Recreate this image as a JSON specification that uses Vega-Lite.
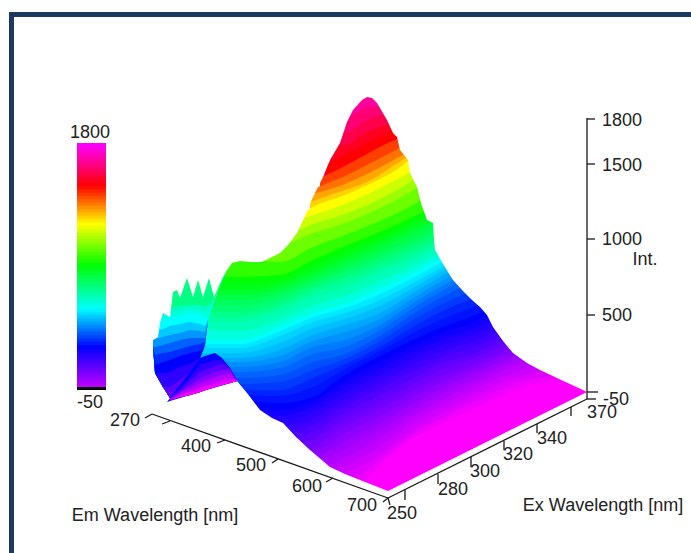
{"$schema":"https://vega.github.io/schema/vega-lite/v6.json","width":691,"height":553,"autosize":"none","padding":0,"background":"white","config":{"view":{"stroke":null}},
"datasets":{
"bands":[
{"v":1680,"x":320,"y":60},{"v":1680,"x":430,"y":60},
{"v":1630,"x":340,"y":125},{"v":1630,"x":367,"y":108},{"v":1630,"x":395,"y":105},
{"v":1580,"x":330,"y":130},{"v":1580,"x":345,"y":133},{"v":1580,"x":367,"y":120},{"v":1580,"x":395,"y":112},
{"v":1530,"x":330,"y":145},{"v":1530,"x":345,"y":145},{"v":1530,"x":367,"y":132},{"v":1530,"x":395,"y":122},{"v":1530,"x":410,"y":115},
{"v":1490,"x":325,"y":165},{"v":1490,"x":345,"y":155},{"v":1490,"x":367,"y":143},{"v":1490,"x":385,"y":134},{"v":1490,"x":410,"y":122},
{"v":1420,"x":320,"y":178},{"v":1420,"x":345,"y":166},{"v":1420,"x":367,"y":154},{"v":1420,"x":390,"y":142},{"v":1420,"x":410,"y":135},
{"v":1360,"x":315,"y":188},{"v":1360,"x":345,"y":176},{"v":1360,"x":367,"y":165},{"v":1360,"x":390,"y":153},{"v":1360,"x":415,"y":140},
{"v":1300,"x":310,"y":195},{"v":1300,"x":345,"y":184},{"v":1300,"x":367,"y":174},{"v":1300,"x":390,"y":162},{"v":1300,"x":415,"y":148},
{"v":1250,"x":310,"y":202},{"v":1250,"x":345,"y":190},{"v":1250,"x":367,"y":182},{"v":1250,"x":390,"y":168},{"v":1250,"x":415,"y":152},
{"v":1200,"x":300,"y":215},{"v":1200,"x":313,"y":207},{"v":1200,"x":345,"y":195},{"v":1200,"x":363,"y":187},{"v":1200,"x":403,"y":165},{"v":1200,"x":420,"y":150},
{"v":1140,"x":280,"y":225},{"v":1140,"x":313,"y":215},{"v":1140,"x":345,"y":204},{"v":1140,"x":380,"y":188},{"v":1140,"x":413,"y":170},{"v":1140,"x":440,"y":150},
{"v":1080,"x":165,"y":232},{"v":1080,"x":240,"y":232},{"v":1080,"x":280,"y":236},{"v":1080,"x":313,"y":224},{"v":1080,"x":345,"y":214},{"v":1080,"x":380,"y":199},{"v":1080,"x":413,"y":180},{"v":1080,"x":440,"y":160},
{"v":1020,"x":165,"y":240},{"v":1020,"x":240,"y":240},{"v":1020,"x":280,"y":244},{"v":1020,"x":313,"y":233},{"v":1020,"x":345,"y":223},{"v":1020,"x":380,"y":208},{"v":1020,"x":413,"y":190},{"v":1020,"x":440,"y":170},
{"v":950,"x":165,"y":258},{"v":950,"x":240,"y":258},{"v":950,"x":280,"y":262},{"v":950,"x":313,"y":247},{"v":950,"x":345,"y":235},{"v":950,"x":380,"y":221},{"v":950,"x":413,"y":205},{"v":950,"x":440,"y":188},
{"v":890,"x":165,"y":277},{"v":890,"x":240,"y":277},{"v":890,"x":280,"y":275},{"v":890,"x":313,"y":260},{"v":890,"x":345,"y":246},{"v":890,"x":380,"y":232},{"v":890,"x":413,"y":217},{"v":890,"x":440,"y":203},{"v":890,"x":470,"y":180},
{"v":860,"x":165,"y":283},{"v":860,"x":240,"y":283},{"v":860,"x":280,"y":280},{"v":860,"x":313,"y":266},{"v":860,"x":345,"y":252},{"v":860,"x":380,"y":238},{"v":860,"x":413,"y":222},{"v":860,"x":440,"y":209},{"v":860,"x":470,"y":185},
{"v":830,"x":165,"y":290},{"v":830,"x":240,"y":290},{"v":830,"x":280,"y":285},{"v":830,"x":313,"y":272},{"v":830,"x":345,"y":258},{"v":830,"x":380,"y":243},{"v":830,"x":413,"y":228},{"v":830,"x":440,"y":215},{"v":830,"x":480,"y":190},
{"v":800,"x":165,"y":295},{"v":800,"x":240,"y":295},{"v":800,"x":280,"y":289},{"v":800,"x":313,"y":276},{"v":800,"x":345,"y":263},{"v":800,"x":380,"y":248},{"v":800,"x":413,"y":233},{"v":800,"x":440,"y":220},{"v":800,"x":480,"y":195},
{"v":770,"x":165,"y":300},{"v":770,"x":240,"y":300},{"v":770,"x":280,"y":293},{"v":770,"x":313,"y":281},{"v":770,"x":345,"y":268},{"v":770,"x":380,"y":253},{"v":770,"x":413,"y":239},{"v":770,"x":440,"y":226},{"v":770,"x":480,"y":200},
{"v":740,"x":165,"y":306},{"v":740,"x":240,"y":306},{"v":740,"x":280,"y":298},{"v":740,"x":313,"y":284},{"v":740,"x":345,"y":272},{"v":740,"x":380,"y":258},{"v":740,"x":413,"y":244},{"v":740,"x":440,"y":231},{"v":740,"x":480,"y":206},
{"v":710,"x":165,"y":312},{"v":710,"x":240,"y":312},{"v":710,"x":280,"y":303},{"v":710,"x":313,"y":288},{"v":710,"x":345,"y":277},{"v":710,"x":380,"y":263},{"v":710,"x":413,"y":249},{"v":710,"x":440,"y":236},{"v":710,"x":480,"y":212},
{"v":680,"x":165,"y":317},{"v":680,"x":240,"y":317},{"v":680,"x":280,"y":307},{"v":680,"x":313,"y":293},{"v":680,"x":345,"y":282},{"v":680,"x":380,"y":268},{"v":680,"x":413,"y":254},{"v":680,"x":440,"y":241},{"v":680,"x":480,"y":217},
{"v":650,"x":165,"y":322},{"v":650,"x":240,"y":322},{"v":650,"x":280,"y":312},{"v":650,"x":313,"y":298},{"v":650,"x":345,"y":288},{"v":650,"x":380,"y":273},{"v":650,"x":413,"y":259},{"v":650,"x":440,"y":246},{"v":650,"x":480,"y":222},
{"v":605,"x":165,"y":331},{"v":605,"x":240,"y":331},{"v":605,"x":280,"y":320},{"v":605,"x":313,"y":306},{"v":605,"x":345,"y":296},{"v":605,"x":380,"y":281},{"v":605,"x":413,"y":266},{"v":605,"x":440,"y":252},{"v":605,"x":480,"y":230},
{"v":560,"x":165,"y":340},{"v":560,"x":240,"y":340},{"v":560,"x":280,"y":327},{"v":560,"x":313,"y":313},{"v":560,"x":345,"y":304},{"v":560,"x":380,"y":289},{"v":560,"x":413,"y":273},{"v":560,"x":440,"y":258},{"v":560,"x":480,"y":237},{"v":560,"x":520,"y":210},
{"v":535,"x":165,"y":344},{"v":535,"x":240,"y":344},{"v":535,"x":280,"y":331},{"v":535,"x":313,"y":317},{"v":535,"x":345,"y":308},{"v":535,"x":380,"y":294},{"v":535,"x":413,"y":278},{"v":535,"x":440,"y":263},{"v":535,"x":480,"y":242},{"v":535,"x":520,"y":216},
{"v":510,"x":165,"y":348},{"v":510,"x":240,"y":348},{"v":510,"x":280,"y":336},{"v":510,"x":313,"y":322},{"v":510,"x":345,"y":313},{"v":510,"x":380,"y":300},{"v":510,"x":413,"y":283},{"v":510,"x":440,"y":268},{"v":510,"x":480,"y":247},{"v":510,"x":520,"y":222},
{"v":485,"x":165,"y":353},{"v":485,"x":240,"y":353},{"v":485,"x":280,"y":343},{"v":485,"x":313,"y":328},{"v":485,"x":345,"y":319},{"v":485,"x":380,"y":306},{"v":485,"x":413,"y":288},{"v":485,"x":440,"y":272},{"v":485,"x":480,"y":251},{"v":485,"x":520,"y":227},
{"v":460,"x":165,"y":358},{"v":460,"x":240,"y":358},{"v":460,"x":280,"y":350},{"v":460,"x":313,"y":335},{"v":460,"x":345,"y":325},{"v":460,"x":380,"y":313},{"v":460,"x":413,"y":293},{"v":460,"x":440,"y":277},{"v":460,"x":480,"y":256},{"v":460,"x":520,"y":232},
{"v":435,"x":165,"y":362},{"v":435,"x":240,"y":362},{"v":435,"x":280,"y":356},{"v":435,"x":313,"y":341},{"v":435,"x":345,"y":332},{"v":435,"x":380,"y":319},{"v":435,"x":413,"y":298},{"v":435,"x":440,"y":282},{"v":435,"x":480,"y":261},{"v":435,"x":520,"y":238},
{"v":410,"x":165,"y":367},{"v":410,"x":240,"y":367},{"v":410,"x":280,"y":362},{"v":410,"x":313,"y":347},{"v":410,"x":345,"y":340},{"v":410,"x":380,"y":325},{"v":410,"x":413,"y":303},{"v":410,"x":440,"y":287},{"v":410,"x":480,"y":266},{"v":410,"x":520,"y":245},
{"v":385,"x":165,"y":372},{"v":385,"x":240,"y":372},{"v":385,"x":280,"y":368},{"v":385,"x":313,"y":354},{"v":385,"x":345,"y":347},{"v":385,"x":380,"y":330},{"v":385,"x":413,"y":308},{"v":385,"x":440,"y":292},{"v":385,"x":480,"y":272},{"v":385,"x":520,"y":251},
{"v":360,"x":165,"y":378},{"v":360,"x":240,"y":378},{"v":360,"x":280,"y":375},{"v":360,"x":313,"y":362},{"v":360,"x":345,"y":354},{"v":360,"x":380,"y":336},{"v":360,"x":413,"y":314},{"v":360,"x":440,"y":298},{"v":360,"x":480,"y":279},{"v":360,"x":520,"y":258},
{"v":335,"x":165,"y":384},{"v":335,"x":240,"y":384},{"v":335,"x":280,"y":382},{"v":335,"x":313,"y":370},{"v":335,"x":345,"y":359},{"v":335,"x":380,"y":341},{"v":335,"x":413,"y":320},{"v":335,"x":440,"y":305},{"v":335,"x":480,"y":287},{"v":335,"x":520,"y":265},
{"v":310,"x":165,"y":390},{"v":310,"x":240,"y":390},{"v":310,"x":280,"y":390},{"v":310,"x":313,"y":378},{"v":310,"x":345,"y":364},{"v":310,"x":380,"y":347},{"v":310,"x":413,"y":327},{"v":310,"x":440,"y":312},{"v":310,"x":480,"y":295},{"v":310,"x":520,"y":272},
{"v":290,"x":165,"y":395},{"v":290,"x":240,"y":395},{"v":290,"x":280,"y":396},{"v":290,"x":313,"y":387},{"v":290,"x":345,"y":369},{"v":290,"x":380,"y":351},{"v":290,"x":413,"y":333},{"v":290,"x":440,"y":320},{"v":290,"x":480,"y":304},{"v":290,"x":520,"y":281},
{"v":270,"x":240,"y":400},{"v":270,"x":280,"y":403},{"v":270,"x":313,"y":397},{"v":270,"x":345,"y":375},{"v":270,"x":380,"y":356},{"v":270,"x":413,"y":340},{"v":270,"x":440,"y":328},{"v":270,"x":480,"y":313},{"v":270,"x":520,"y":290},{"v":270,"x":560,"y":270},
{"v":245,"x":240,"y":405},{"v":245,"x":280,"y":410},{"v":245,"x":313,"y":401},{"v":245,"x":345,"y":381},{"v":245,"x":380,"y":362},{"v":245,"x":413,"y":346},{"v":245,"x":440,"y":334},{"v":245,"x":480,"y":320},{"v":245,"x":520,"y":297},{"v":245,"x":560,"y":277},
{"v":220,"x":240,"y":410},{"v":220,"x":280,"y":416},{"v":220,"x":313,"y":406},{"v":220,"x":345,"y":387},{"v":220,"x":380,"y":369},{"v":220,"x":413,"y":352},{"v":220,"x":440,"y":340},{"v":220,"x":480,"y":326},{"v":220,"x":520,"y":305},{"v":220,"x":560,"y":285},
{"v":195,"x":240,"y":418},{"v":195,"x":280,"y":422},{"v":195,"x":313,"y":412},{"v":195,"x":345,"y":393},{"v":195,"x":380,"y":375},{"v":195,"x":413,"y":358},{"v":195,"x":440,"y":346},{"v":195,"x":480,"y":332},{"v":195,"x":520,"y":312},{"v":195,"x":560,"y":292},
{"v":170,"x":240,"y":425},{"v":170,"x":280,"y":428},{"v":170,"x":313,"y":419},{"v":170,"x":345,"y":400},{"v":170,"x":380,"y":382},{"v":170,"x":413,"y":365},{"v":170,"x":440,"y":352},{"v":170,"x":480,"y":339},{"v":170,"x":520,"y":319},{"v":170,"x":560,"y":300},
{"v":145,"x":240,"y":433},{"v":145,"x":280,"y":435},{"v":145,"x":313,"y":425},{"v":145,"x":345,"y":406},{"v":145,"x":380,"y":388},{"v":145,"x":413,"y":371},{"v":145,"x":440,"y":358},{"v":145,"x":480,"y":345},{"v":145,"x":520,"y":325},{"v":145,"x":560,"y":307},
{"v":120,"x":280,"y":442},{"v":120,"x":313,"y":432},{"v":120,"x":345,"y":412},{"v":120,"x":380,"y":395},{"v":120,"x":413,"y":378},{"v":120,"x":440,"y":364},{"v":120,"x":480,"y":351},{"v":120,"x":520,"y":331},{"v":120,"x":560,"y":315},{"v":120,"x":592,"y":300},
{"v":95,"x":280,"y":448},{"v":95,"x":313,"y":439},{"v":95,"x":345,"y":419},{"v":95,"x":380,"y":402},{"v":95,"x":413,"y":384},{"v":95,"x":440,"y":370},{"v":95,"x":480,"y":356},{"v":95,"x":520,"y":337},{"v":95,"x":560,"y":322},{"v":95,"x":592,"y":309},
{"v":70,"x":280,"y":455},{"v":70,"x":313,"y":447},{"v":70,"x":345,"y":426},{"v":70,"x":380,"y":409},{"v":70,"x":413,"y":391},{"v":70,"x":440,"y":377},{"v":70,"x":480,"y":362},{"v":70,"x":520,"y":343},{"v":70,"x":560,"y":330},{"v":70,"x":592,"y":318},
{"v":45,"x":280,"y":460},{"v":45,"x":313,"y":453},{"v":45,"x":345,"y":433},{"v":45,"x":380,"y":416},{"v":45,"x":413,"y":397},{"v":45,"x":440,"y":383},{"v":45,"x":480,"y":366},{"v":45,"x":520,"y":348},{"v":45,"x":560,"y":337},{"v":45,"x":592,"y":325},
{"v":20,"x":313,"y":460},{"v":20,"x":345,"y":441},{"v":20,"x":380,"y":423},{"v":20,"x":413,"y":404},{"v":20,"x":440,"y":389},{"v":20,"x":480,"y":371},{"v":20,"x":520,"y":354},{"v":20,"x":560,"y":345},{"v":20,"x":592,"y":333},
{"v":-5,"x":313,"y":467},{"v":-5,"x":345,"y":449},{"v":-5,"x":380,"y":430},{"v":-5,"x":413,"y":410},{"v":-5,"x":440,"y":395},{"v":-5,"x":480,"y":376},{"v":-5,"x":520,"y":359},{"v":-5,"x":560,"y":351},{"v":-5,"x":592,"y":340},
{"v":-30,"x":313,"y":475},{"v":-30,"x":345,"y":458},{"v":-30,"x":380,"y":438},{"v":-30,"x":413,"y":416},{"v":-30,"x":440,"y":401},{"v":-30,"x":480,"y":381},{"v":-30,"x":520,"y":364},{"v":-30,"x":560,"y":358},{"v":-30,"x":592,"y":348},
{"v":-55,"x":313,"y":482},{"v":-55,"x":345,"y":466},{"v":-55,"x":380,"y":446},{"v":-55,"x":413,"y":423},{"v":-55,"x":440,"y":407},{"v":-55,"x":480,"y":387},{"v":-55,"x":520,"y":370},{"v":-55,"x":560,"y":364},{"v":-55,"x":592,"y":355},
{"v":-80,"x":345,"y":475},{"v":-80,"x":380,"y":454},{"v":-80,"x":413,"y":430},{"v":-80,"x":440,"y":414},{"v":-80,"x":480,"y":393},{"v":-80,"x":520,"y":376},{"v":-80,"x":560,"y":370},{"v":-80,"x":592,"y":362},
{"v":-105,"x":345,"y":487},{"v":-105,"x":380,"y":460},{"v":-105,"x":413,"y":434},{"v":-105,"x":440,"y":419},{"v":-105,"x":480,"y":399},{"v":-105,"x":520,"y":382},{"v":-105,"x":560,"y":374},{"v":-105,"x":592,"y":367},
{"v":-130,"x":345,"y":500},{"v":-130,"x":380,"y":465},{"v":-130,"x":413,"y":438},{"v":-130,"x":440,"y":424},{"v":-130,"x":480,"y":406},{"v":-130,"x":520,"y":388},{"v":-130,"x":560,"y":378},{"v":-130,"x":592,"y":372}
],
"topEdge":[{"x":158,"y":405},{"x":165,"y":405},{"x":170,"y":398},{"x":190,"y":363},{"x":202,"y":340},{"x":208,"y":317},{"x":225,"y":273},{"x":232,"y":263},{"x":240,"y":261},{"x":250,"y":262},{"x":262,"y":262},{"x":272,"y":257},{"x":280,"y":253},{"x":288,"y":245},{"x":297,"y":233},{"x":305,"y":216},{"x":313,"y":197},{"x":323,"y":177},{"x":330,"y":160},{"x":340,"y":143},{"x":347,"y":122},{"x":353,"y":110},{"x":362,"y":100},{"x":367,"y":97},{"x":372,"y":98},{"x":377,"y":103},{"x":387,"y":120},{"x":393,"y":133},{"x":397,"y":137},{"x":400,"y":150},{"x":408,"y":160},{"x":410,"y":173},{"x":417,"y":187},{"x":421,"y":203},{"x":427,"y":220},{"x":433,"y":223},{"x":434,"y":240},{"x":435,"y":250},{"x":443,"y":264},{"x":453,"y":280},{"x":462,"y":290},{"x":472,"y":300},{"x":480,"y":307},{"x":487,"y":315},{"x":493,"y":327},{"x":503,"y":341},{"x":513,"y":353},{"x":527,"y":363},{"x":540,"y":370},{"x":557,"y":378},{"x":572,"y":385},{"x":587,"y":392},{"x":597,"y":392}],
"botEdge":[{"x":158,"y":403},{"x":165,"y":403},{"x":170,"y":401},{"x":237,"y":381},{"x":247,"y":393},{"x":260,"y":410},{"x":272,"y":418},{"x":283,"y":423},{"x":296,"y":437},{"x":310,"y":450},{"x":330,"y":467},{"x":345,"y":474},{"x":360,"y":480},{"x":388,"y":491},{"x":587,"y":392},{"x":597,"y":392}],
"flapEdge":[{"x":149,"y":340},{"x":153,"y":340},{"x":158,"y":337},{"x":160,"y":323},{"x":163,"y":313},{"x":170,"y":317},{"x":173,"y":292},{"x":177,"y":290},{"x":180,"y":298},{"x":187,"y":278},{"x":193,"y":297},{"x":198,"y":280},{"x":203,"y":297},{"x":209,"y":278},{"x":214,"y":297},{"x":223,"y":277},{"x":226,"y":272}],
"flap":[
{"v":720,"x":153,"y":250,"b":347},{"v":720,"x":155,"y":250,"b":373},{"v":720,"x":163,"y":250,"b":387},{"v":720,"x":170,"y":250,"b":398},{"v":720,"x":180,"y":250,"b":385},{"v":720,"x":190,"y":250,"b":372},{"v":720,"x":200,"y":250,"b":358},{"v":720,"x":205,"y":250,"b":345},{"v":720,"x":208,"y":250,"b":320},{"v":720,"x":215,"y":250,"b":298},{"v":720,"x":226,"y":250,"b":273},
{"v":640,"x":153,"y":310,"b":347},{"v":640,"x":155,"y":310,"b":373},{"v":640,"x":163,"y":309,"b":387},{"v":640,"x":170,"y":308,"b":398},{"v":640,"x":180,"y":306,"b":385},{"v":640,"x":190,"y":305,"b":372},{"v":640,"x":200,"y":305,"b":358},{"v":640,"x":205,"y":306,"b":345},{"v":640,"x":208,"y":306,"b":320},{"v":640,"x":215,"y":298,"b":298},{"v":640,"x":226,"y":273,"b":273},
{"v":600,"x":153,"y":316,"b":347},{"v":600,"x":155,"y":316,"b":373},{"v":600,"x":163,"y":315,"b":387},{"v":600,"x":170,"y":313,"b":398},{"v":600,"x":180,"y":311,"b":385},{"v":600,"x":190,"y":309,"b":372},{"v":600,"x":200,"y":310,"b":358},{"v":600,"x":205,"y":312,"b":345},{"v":600,"x":208,"y":312,"b":320},{"v":600,"x":215,"y":298,"b":298},{"v":600,"x":226,"y":273,"b":273},
{"v":560,"x":153,"y":322,"b":347},{"v":560,"x":155,"y":322,"b":373},{"v":560,"x":163,"y":320,"b":387},{"v":560,"x":170,"y":318,"b":398},{"v":560,"x":180,"y":316,"b":385},{"v":560,"x":190,"y":313,"b":372},{"v":560,"x":200,"y":315,"b":358},{"v":560,"x":205,"y":317,"b":345},{"v":560,"x":208,"y":318,"b":320},{"v":560,"x":215,"y":298,"b":298},{"v":560,"x":226,"y":273,"b":273},
{"v":500,"x":153,"y":332,"b":347},{"v":500,"x":155,"y":331,"b":373},{"v":500,"x":163,"y":329,"b":387},{"v":500,"x":170,"y":326,"b":398},{"v":500,"x":180,"y":324,"b":385},{"v":500,"x":190,"y":322,"b":372},{"v":500,"x":200,"y":324,"b":358},{"v":500,"x":205,"y":326,"b":345},{"v":500,"x":208,"y":320,"b":320},{"v":500,"x":215,"y":298,"b":298},{"v":500,"x":226,"y":273,"b":273},
{"v":440,"x":153,"y":340,"b":347},{"v":440,"x":155,"y":339,"b":373},{"v":440,"x":163,"y":337,"b":387},{"v":440,"x":170,"y":335,"b":398},{"v":440,"x":180,"y":333,"b":385},{"v":440,"x":190,"y":330,"b":372},{"v":440,"x":200,"y":331,"b":358},{"v":440,"x":205,"y":332,"b":345},{"v":440,"x":208,"y":320,"b":320},{"v":440,"x":215,"y":298,"b":298},{"v":440,"x":226,"y":273,"b":273},
{"v":380,"x":153,"y":347,"b":347},{"v":380,"x":155,"y":347,"b":373},{"v":380,"x":163,"y":345,"b":387},{"v":380,"x":170,"y":343,"b":398},{"v":380,"x":180,"y":340,"b":385},{"v":380,"x":190,"y":338,"b":372},{"v":380,"x":200,"y":338,"b":358},{"v":380,"x":205,"y":338,"b":345},{"v":380,"x":208,"y":320,"b":320},{"v":380,"x":215,"y":298,"b":298},{"v":380,"x":226,"y":273,"b":273},
{"v":320,"x":153,"y":347,"b":347},{"v":320,"x":155,"y":355,"b":373},{"v":320,"x":163,"y":353,"b":387},{"v":320,"x":170,"y":352,"b":398},{"v":320,"x":180,"y":349,"b":385},{"v":320,"x":190,"y":346,"b":372},{"v":320,"x":200,"y":344,"b":358},{"v":320,"x":205,"y":342,"b":345},{"v":320,"x":208,"y":320,"b":320},{"v":320,"x":215,"y":298,"b":298},{"v":320,"x":226,"y":273,"b":273},
{"v":270,"x":153,"y":347,"b":347},{"v":270,"x":155,"y":365,"b":373},{"v":270,"x":163,"y":362,"b":387},{"v":270,"x":170,"y":360,"b":398},{"v":270,"x":180,"y":356,"b":385},{"v":270,"x":190,"y":353,"b":372},{"v":270,"x":200,"y":351,"b":358},{"v":270,"x":205,"y":345,"b":345},{"v":270,"x":208,"y":320,"b":320},{"v":270,"x":215,"y":298,"b":298},{"v":270,"x":226,"y":273,"b":273},
{"v":200,"x":155,"y":373,"b":373},{"v":200,"x":163,"y":373,"b":387},{"v":200,"x":170,"y":372,"b":398},{"v":200,"x":180,"y":367,"b":385},{"v":200,"x":190,"y":364,"b":372},{"v":200,"x":200,"y":358,"b":358},
{"v":120,"x":163,"y":387,"b":387},{"v":120,"x":170,"y":387,"b":398},{"v":120,"x":180,"y":380,"b":385},{"v":120,"x":190,"y":372,"b":372}
],
"tri":[
{"v":270,"x":170,"y":398,"b":400},{"v":270,"x":180,"y":385,"b":397},{"v":270,"x":190,"y":372,"b":395},{"v":270,"x":200,"y":358,"b":392},{"v":270,"x":205,"y":356,"b":390},{"v":270,"x":215,"y":353,"b":387},{"v":270,"x":222,"y":358,"b":385},{"v":270,"x":230,"y":368,"b":383},{"v":270,"x":237,"y":380,"b":381},
{"v":200,"x":170,"y":398,"b":400},{"v":200,"x":180,"y":388,"b":397},{"v":200,"x":190,"y":377,"b":395},{"v":200,"x":200,"y":365,"b":392},{"v":200,"x":205,"y":363,"b":390},{"v":200,"x":215,"y":360,"b":387},{"v":200,"x":222,"y":360,"b":385},{"v":200,"x":230,"y":368,"b":383},{"v":200,"x":237,"y":380,"b":381},
{"v":130,"x":170,"y":398,"b":400},{"v":130,"x":180,"y":390,"b":397},{"v":130,"x":190,"y":381,"b":395},{"v":130,"x":200,"y":372,"b":392},{"v":130,"x":205,"y":370,"b":390},{"v":130,"x":215,"y":366,"b":387},{"v":130,"x":222,"y":364,"b":385},{"v":130,"x":230,"y":368,"b":383},{"v":130,"x":237,"y":380,"b":381},
{"v":60,"x":170,"y":399,"b":400},{"v":60,"x":180,"y":392,"b":397},{"v":60,"x":190,"y":385,"b":395},{"v":60,"x":200,"y":378,"b":392},{"v":60,"x":205,"y":376,"b":390},{"v":60,"x":215,"y":372,"b":387},{"v":60,"x":222,"y":370,"b":385},{"v":60,"x":230,"y":370,"b":383},{"v":60,"x":237,"y":380,"b":381},
{"v":-10,"x":170,"y":399,"b":400},{"v":-10,"x":180,"y":393,"b":397},{"v":-10,"x":190,"y":388,"b":395},{"v":-10,"x":200,"y":383,"b":392},{"v":-10,"x":205,"y":381,"b":390},{"v":-10,"x":215,"y":377,"b":387},{"v":-10,"x":222,"y":375,"b":385},{"v":-10,"x":230,"y":373,"b":383},{"v":-10,"x":237,"y":380,"b":381},
{"v":-70,"x":170,"y":400,"b":400},{"v":-70,"x":180,"y":395,"b":397},{"v":-70,"x":190,"y":391,"b":395},{"v":-70,"x":200,"y":387,"b":392},{"v":-70,"x":205,"y":385,"b":390},{"v":-70,"x":215,"y":382,"b":387},{"v":-70,"x":222,"y":380,"b":385},{"v":-70,"x":230,"y":378,"b":383},{"v":-70,"x":237,"y":380,"b":381},
{"v":-130,"x":170,"y":400,"b":400},{"v":-130,"x":180,"y":396,"b":397},{"v":-130,"x":190,"y":393,"b":395},{"v":-130,"x":200,"y":390,"b":392},{"v":-130,"x":205,"y":388,"b":390},{"v":-130,"x":215,"y":385,"b":387},{"v":-130,"x":222,"y":383,"b":385},{"v":-130,"x":230,"y":381,"b":383},{"v":-130,"x":237,"y":380,"b":381}
],
"legend":[
{"v":1800,"x":77,"x2":106,"y":143,"b":147},{"v":1775,"x":77,"x2":106,"y":146.3,"b":150},{"v":1750,"x":77,"x2":106,"y":149.6,"b":154},{"v":1725,"x":77,"x2":106,"y":152.9,"b":157},{"v":1700,"x":77,"x2":106,"y":156.2,"b":160},{"v":1675,"x":77,"x2":106,"y":159.6,"b":164},{"v":1650,"x":77,"x2":106,"y":162.9,"b":167},{"v":1625,"x":77,"x2":106,"y":166.2,"b":170},{"v":1600,"x":77,"x2":106,"y":169.5,"b":174},{"v":1575,"x":77,"x2":106,"y":172.8,"b":177},{"v":1550,"x":77,"x2":106,"y":176.1,"b":180},{"v":1525,"x":77,"x2":106,"y":179.4,"b":184},{"v":1500,"x":77,"x2":106,"y":182.7,"b":187},{"v":1475,"x":77,"x2":106,"y":186,"b":190},{"v":1450,"x":77,"x2":106,"y":189.3,"b":194},{"v":1425,"x":77,"x2":106,"y":192.7,"b":197},{"v":1400,"x":77,"x2":106,"y":196,"b":200},{"v":1375,"x":77,"x2":106,"y":199.3,"b":204},{"v":1350,"x":77,"x2":106,"y":202.6,"b":207},{"v":1325,"x":77,"x2":106,"y":205.9,"b":210},{"v":1300,"x":77,"x2":106,"y":209.2,"b":214},{"v":1275,"x":77,"x2":106,"y":212.5,"b":217},{"v":1250,"x":77,"x2":106,"y":215.8,"b":220},{"v":1225,"x":77,"x2":106,"y":219.1,"b":223},{"v":1200,"x":77,"x2":106,"y":222.4,"b":227},{"v":1175,"x":77,"x2":106,"y":225.8,"b":230},{"v":1150,"x":77,"x2":106,"y":229.1,"b":233},{"v":1125,"x":77,"x2":106,"y":232.4,"b":237},{"v":1100,"x":77,"x2":106,"y":235.7,"b":240},{"v":1075,"x":77,"x2":106,"y":239,"b":243},{"v":1050,"x":77,"x2":106,"y":242.3,"b":247},{"v":1025,"x":77,"x2":106,"y":245.6,"b":250},{"v":1000,"x":77,"x2":106,"y":248.9,"b":253},{"v":975,"x":77,"x2":106,"y":252.2,"b":256},{"v":950,"x":77,"x2":106,"y":255.5,"b":260},{"v":925,"x":77,"x2":106,"y":258.9,"b":263},{"v":900,"x":77,"x2":106,"y":262.2,"b":266},{"v":875,"x":77,"x2":106,"y":265.5,"b":270},{"v":850,"x":77,"x2":106,"y":268.8,"b":273},{"v":825,"x":77,"x2":106,"y":272.1,"b":276},{"v":800,"x":77,"x2":106,"y":275.4,"b":280},{"v":775,"x":77,"x2":106,"y":278.7,"b":283},{"v":750,"x":77,"x2":106,"y":282,"b":286},{"v":725,"x":77,"x2":106,"y":285.3,"b":290},{"v":700,"x":77,"x2":106,"y":288.6,"b":293},{"v":675,"x":77,"x2":106,"y":292,"b":296},{"v":650,"x":77,"x2":106,"y":295.3,"b":300},{"v":625,"x":77,"x2":106,"y":298.6,"b":303},{"v":600,"x":77,"x2":106,"y":301.9,"b":306},{"v":575,"x":77,"x2":106,"y":305.2,"b":309},{"v":550,"x":77,"x2":106,"y":308.5,"b":313},{"v":525,"x":77,"x2":106,"y":311.8,"b":316},{"v":500,"x":77,"x2":106,"y":315.1,"b":319},{"v":475,"x":77,"x2":106,"y":318.4,"b":323},{"v":450,"x":77,"x2":106,"y":321.7,"b":326},{"v":425,"x":77,"x2":106,"y":325.1,"b":329},{"v":400,"x":77,"x2":106,"y":328.4,"b":333},{"v":375,"x":77,"x2":106,"y":331.7,"b":336},{"v":350,"x":77,"x2":106,"y":335,"b":339},{"v":325,"x":77,"x2":106,"y":338.3,"b":343},{"v":300,"x":77,"x2":106,"y":341.6,"b":346},{"v":275,"x":77,"x2":106,"y":344.9,"b":349},{"v":250,"x":77,"x2":106,"y":348.2,"b":352},{"v":225,"x":77,"x2":106,"y":351.5,"b":356},{"v":200,"x":77,"x2":106,"y":354.8,"b":359},{"v":175,"x":77,"x2":106,"y":358.2,"b":362},{"v":150,"x":77,"x2":106,"y":361.5,"b":366},{"v":125,"x":77,"x2":106,"y":364.8,"b":369},{"v":100,"x":77,"x2":106,"y":368.1,"b":372},{"v":75,"x":77,"x2":106,"y":371.4,"b":376},{"v":50,"x":77,"x2":106,"y":374.7,"b":379},{"v":25,"x":77,"x2":106,"y":378,"b":382},{"v":0,"x":77,"x2":106,"y":381.3,"b":385},{"v":-25,"x":77,"x2":106,"y":384.6,"b":388}
],
"frame":[{"x":11.5,"y":12,"x2":11.5,"y2":553},{"x":9,"y":14.5,"x2":691,"y2":14.5}],
"lines":[
{"x":152,"y":414,"x2":388,"y2":498},{"x":388,"y":498,"x2":587,"y2":399},{"x":587,"y":118,"x2":587,"y2":399},{"x":587,"y":119,"x2":595,"y2":119},{"x":587,"y":164,"x2":595,"y2":164},{"x":587,"y":239,"x2":595,"y2":239},{"x":587,"y":315,"x2":595,"y2":315},{"x":587,"y":392,"x2":598,"y2":392},{"x":587,"y":399,"x2":596,"y2":399},
{"x":152,"y":414,"x2":145,"y2":418},{"x":170,"y":421,"x2":162,"y2":424},{"x":225,"y":440,"x2":217,"y2":443},{"x":278,"y":459,"x2":272,"y2":463},{"x":333,"y":478,"x2":326,"y2":482},{"x":388,"y":498,"x2":383,"y2":502},
{"x":388,"y":498,"x2":390,"y2":505},{"x":405,"y":490,"x2":405,"y2":500},{"x":438,"y":474,"x2":438,"y2":484},{"x":471,"y":457,"x2":471,"y2":467},{"x":504,"y":441,"x2":504,"y2":450},{"x":537,"y":424,"x2":537,"y2":433},{"x":571,"y":407,"x2":571,"y2":416}
],
"labels":[
{"t":"1800","x":90,"y":133},{"t":"-50","x":90,"y":403},
{"t":"270","x":125,"y":421},{"t":"400","x":196,"y":447},{"t":"500","x":251,"y":466},{"t":"600","x":307,"y":487},{"t":"700","x":362,"y":506},
{"t":"250","x":402,"y":514},{"t":"280","x":453,"y":490},{"t":"300","x":485,"y":472},{"t":"320","x":518,"y":455},{"t":"340","x":552,"y":439},{"t":"370","x":602,"y":413},
{"t":"1800","x":622,"y":121},{"t":"1500","x":622,"y":166},{"t":"1000","x":622,"y":240},{"t":"500","x":617,"y":316},{"t":"-50","x":616,"y":400},{"t":"Int.","x":645,"y":260},
{"t":"Em Wavelength [nm]","x":155,"y":516},{"t":"Ex Wavelength [nm]","x":603,"y":506}
]},
"encoding":{
"x":{"field":"x","type":"quantitative","scale":{"domain":[0,691],"nice":false,"zero":false},"axis":null},
"y":{"field":"y","type":"quantitative","scale":{"domain":[0,553],"reverse":true,"nice":false,"zero":false},"axis":null}},
"layer":[
{"data":{"name":"bands"},"mark":{"type":"area","orient":"vertical","interpolate":"monotone"},"encoding":{"y2":{"datum":515},"detail":{"field":"v"},"color":{"field":"v","type":"quantitative","scale":{"type":"linear","domain":[-130,270,560,890,1200,1490,1800],"range":["#ff00ff","#0000ff","#00ffff","#00ff00","#ffff00","#ff0000","#ff00ff"],"interpolate":"rgb"},"legend":null}}},
{"data":{"name":"topEdge"},"mark":{"type":"area","orient":"vertical","color":"white"},"encoding":{"y2":{"datum":40}}},
{"data":{"name":"botEdge"},"mark":{"type":"area","orient":"vertical","color":"white"},"encoding":{"y2":{"datum":520}}},
{"data":{"name":"flap"},"mark":{"type":"area","orient":"vertical"},"encoding":{"y2":{"field":"b"},"detail":{"field":"v"},"color":{"field":"v","type":"quantitative","legend":null}}},
{"data":{"name":"flapEdge"},"mark":{"type":"area","orient":"vertical","color":"white"},"encoding":{"y2":{"datum":200}}},
{"data":{"name":"tri"},"mark":{"type":"area","orient":"vertical"},"encoding":{"y2":{"field":"b"},"detail":{"field":"v"},"color":{"field":"v","type":"quantitative","legend":null}}},
{"data":{"name":"legend"},"mark":{"type":"rect"},"encoding":{"x2":{"field":"x2"},"y2":{"field":"b"},"color":{"field":"v","type":"quantitative","legend":null}}},
{"data":{"values":[{"x":77,"y":388.5,"x2":106,"y2":388.5}]},"mark":{"type":"rule","color":"#000000","strokeWidth":3},"encoding":{"x2":{"field":"x2"},"y2":{"field":"y2"}}},
{"data":{"name":"frame"},"mark":{"type":"rule","color":"#1b3a5f","strokeWidth":5},"encoding":{"x2":{"field":"x2"},"y2":{"field":"y2"}}},
{"data":{"name":"lines"},"mark":{"type":"rule","color":"#1a1a1a","strokeWidth":1.3},"encoding":{"x2":{"field":"x2"},"y2":{"field":"y2"}}},
{"data":{"name":"labels"},"mark":{"type":"text","font":"Liberation Sans","fontSize":18,"color":"#222222","align":"center","baseline":"middle"},"encoding":{"text":{"field":"t","type":"nominal"}}}
]}
